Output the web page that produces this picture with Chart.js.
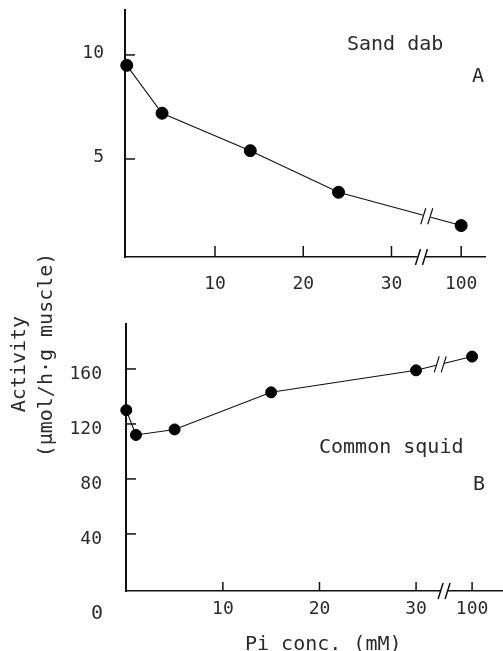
<!DOCTYPE html>
<html><head><meta charset="utf-8">
<script src="https://cdn.jsdelivr.net/npm/chart.js@4"></script>
<style>
html,body{margin:0;padding:0;background:#fff;}
#wrap{position:relative;width:503px;height:651px;overflow:hidden;font-family:"DejaVu Sans Mono",monospace;color:#2a2a2a;}
.box{position:absolute;left:0;width:503px;}
.t{position:absolute;font-size:20px;line-height:20px;white-space:nowrap;}
.rot{position:absolute;width:300px;text-align:center;font-size:20px;line-height:20px;transform:rotate(-90deg);white-space:nowrap;}
</style></head><body>
<div id="wrap">
  <div class="box" style="top:0;height:300px"><canvas id="cA" width="503" height="300"></canvas></div>
  <div class="box" style="top:300px;height:351px"><canvas id="cB" width="503" height="351"></canvas></div>
  <div class="t" style="left:347px;top:33px">Sand dab</div>
  <div class="t" style="left:472px;top:65px">A</div>
  <div class="t" style="left:319px;top:436px">Common squid</div>
  <div class="t" style="left:473px;top:473px">B</div>
  <div class="t" style="left:91px;top:602px">0</div>
  <div class="t" style="left:245px;top:633px">Pi conc. (mM)</div>
  <div class="rot" style="left:-132px;top:354px">Activity</div>
  <div class="rot" style="left:-105px;top:345px">(μmol/h·g muscle)</div>
</div>
<script>
// ---- data ----
const sandDabX = [0, 4, 14, 24, 100];
const sandDabY = [9.5, 7.2, 5.4, 3.4, 1.8];
const squidX = [0, 1, 5, 15, 30, 100];
const squidY = [130, 112, 116, 143, 159, 169];
const xTickValues = [10, 20, 30, 100];
const xTickLabels = ['10', '20', '30', '100'];
const sandDabYTicks = [5, 10];
const squidYTicks = [40, 80, 120, 160];

// ---- layout (broken axis: where the value 100 sits on the linear scale) ----
const panelA = {hundredAt: 37.9, axisBreak: 33.4, lineBreak: 34.0, xMin: -0.2, xMax: 40.6, yMin: 0.29, yMax: 12.16,
  padTop: 10, padRight: 18, yWidth: 125, xHeight: 43, xPad: 17, yPad: 21, yLabelOffset: -2, xLen: 11, yLen: 10, r: 6};
const panelB = {hundredAt: 35.8, axisBreak: 32.9, lineBreak: 32.5, xMin: -0.03, xMax: 39.0, yMin: -1.5, yMax: 192.7,
  padTop: 24, padRight: 0, yWidth: 126, xHeight: 60, xPad: 8, yPad: 24, yLabelOffset: 5, xLen: 9, yLen: 10, r: 5.5};

function drawBreak(ctx, cx, cy) {
  ctx.fillStyle = '#fff';
  ctx.fillRect(cx - 4, cy - 3, 8, 6);
  ctx.beginPath();
  ctx.moveTo(cx - 6, cy + 8); ctx.lineTo(cx - 1, cy - 8);
  ctx.moveTo(cx + 1, cy + 8); ctx.lineTo(cx + 6, cy - 8);
  ctx.stroke();
}

const axisDecor = {
  id: 'axisDecor',
  afterDraw(chart, args, o) {
    const ctx = chart.ctx, x = chart.scales.x, y = chart.scales.y, a = chart.chartArea;
    ctx.save();
    ctx.strokeStyle = '#111'; ctx.lineWidth = 1.5;
    x.ticks.forEach(t => { const px = x.getPixelForValue(t.value); ctx.beginPath(); ctx.moveTo(px, a.bottom); ctx.lineTo(px, a.bottom - o.xLen); ctx.stroke(); });
    y.ticks.forEach(t => { const py = y.getPixelForValue(t.value); ctx.beginPath(); ctx.moveTo(a.left, py); ctx.lineTo(a.left + o.yLen, py); ctx.stroke(); });
    drawBreak(ctx, x.getPixelForValue(o.axisBreak), a.bottom);
    const meta = chart.getDatasetMeta(0), n = meta.data.length;
    const p1 = meta.data[n - 2], p2 = meta.data[n - 1];
    const lbx = x.getPixelForValue(o.lineBreak);
    const t = (lbx - p1.x) / (p2.x - p1.x);
    ctx.lineWidth = 1.2;
    drawBreak(ctx, lbx, p1.y + t * (p2.y - p1.y));
    ctx.restore();
  }
};

function zeroPad(s) { s.paddingTop = 0; s.paddingBottom = 0; s.paddingLeft = 0; s.paddingRight = 0; }

function makeChart(id, xs, ys, yTicks, L) {
  const pos = v => (v === 100 ? L.hundredAt : v);
  const tickPos = xTickValues.map(pos);
  return new Chart(document.getElementById(id), {
    type: 'line',
    data: { datasets: [{
      data: xs.map((v, i) => ({x: pos(v), y: ys[i]})),
      borderColor: '#111', borderWidth: 1.1,
      pointRadius: L.r, pointBackgroundColor: '#000', pointBorderColor: '#000', pointBorderWidth: 1,
      clip: false, tension: 0
    }]},
    options: {
      responsive: false, animation: false,
      layout: { autoPadding: false, padding: {top: L.padTop, right: L.padRight, left: 0, bottom: 0} },
      plugins: { legend: {display: false}, tooltip: {enabled: false},
        axisDecor: {axisBreak: L.axisBreak, lineBreak: L.lineBreak, xLen: L.xLen, yLen: L.yLen} },
      scales: {
        x: { type: 'linear', min: L.xMin, max: L.xMax,
          afterFit: s => { s.height = L.xHeight; zeroPad(s); },
          afterBuildTicks: s => { s.ticks = tickPos.map(v => ({value: v})); },
          ticks: { padding: L.xPad, color: '#2a2a2a', font: {family: 'DejaVu Sans Mono', size: 18},
            maxRotation: 0, autoSkip: false,
            callback: v => { const i = tickPos.indexOf(v); return i >= 0 ? xTickLabels[i] : ''; } },
          grid: { drawOnChartArea: false, drawTicks: false },
          border: { display: true, color: '#111', width: 1.6 }
        },
        y: { type: 'linear', min: L.yMin, max: L.yMax,
          afterFit: s => { s.width = L.yWidth; zeroPad(s); },
          afterBuildTicks: s => { s.ticks = yTicks.map(v => ({value: v})); },
          ticks: { padding: L.yPad, labelOffset: L.yLabelOffset, color: '#2a2a2a', font: {family: 'DejaVu Sans Mono', size: 18} },
          grid: { drawOnChartArea: false, drawTicks: false },
          border: { display: true, color: '#111', width: 2 }
        }
      }
    },
    plugins: [axisDecor]
  });
}

makeChart('cA', sandDabX, sandDabY, sandDabYTicks, panelA);
makeChart('cB', squidX, squidY, squidYTicks, panelB);
</script>
</body></html>
